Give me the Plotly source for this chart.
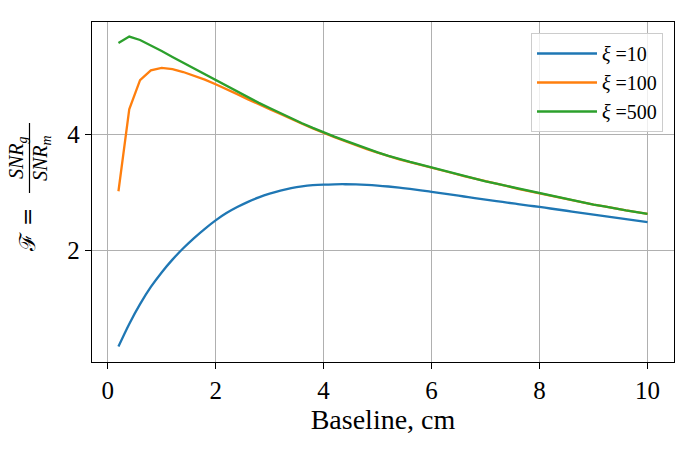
import plotly.graph_objects as go

# ---- data ----
baseline_cm = [0.2, 0.4, 0.6, 0.8, 1.0, 1.2, 1.4, 1.6, 1.8, 2.0,
               2.2, 2.4, 2.6, 2.8, 3.0, 3.2, 3.4, 3.6, 3.8, 4.0,
               4.2, 4.4, 4.6, 4.8, 5.0, 5.2, 5.4, 5.6, 5.8, 6.0,
               6.2, 6.4, 6.6, 6.8, 7.0, 7.2, 7.4, 7.6, 7.8, 8.0,
               8.2, 8.4, 8.6, 8.8, 9.0, 9.2, 9.4, 9.6, 9.8, 10.0]

f_xi10 = [0.35, 0.74, 1.08, 1.375, 1.625, 1.845, 2.04, 2.215, 2.375, 2.52,
          2.645, 2.748, 2.838, 2.914, 2.978, 3.031, 3.073, 3.104, 3.124, 3.135,
          3.14, 3.141, 3.138, 3.13, 3.118, 3.102, 3.083, 3.061, 3.037, 3.011,
          2.984, 2.957, 2.93, 2.903, 2.877, 2.851, 2.825, 2.80, 2.775, 2.75,
          2.724, 2.698, 2.672, 2.646, 2.62, 2.594, 2.568, 2.542, 2.516, 2.49]

f_xi100 = [3.02, 4.43, 4.93, 5.10, 5.14, 5.12, 5.07, 5.01, 4.94, 4.86,
           4.78, 4.69, 4.60, 4.51, 4.43, 4.35, 4.26, 4.18, 4.10, 4.02,
           3.95, 3.88, 3.81, 3.745, 3.685, 3.625, 3.57, 3.52, 3.475, 3.43,
           3.38, 3.33, 3.28, 3.24, 3.19, 3.15, 3.11, 3.06, 3.02, 2.98,
           2.94, 2.90, 2.86, 2.83, 2.79, 2.76, 2.72, 2.69, 2.66, 2.63]

f_xi500 = [5.57, 5.68, 5.62, 5.53, 5.43, 5.33, 5.23, 5.13, 5.03, 4.93,
           4.83, 4.73, 4.63, 4.54, 4.45, 4.36, 4.27, 4.19, 4.11, 4.03,
           3.96, 3.89, 3.82, 3.75, 3.69, 3.63, 3.575, 3.525, 3.48, 3.43,
           3.38, 3.33, 3.28, 3.24, 3.19, 3.15, 3.11, 3.06, 3.02, 2.98,
           2.94, 2.90, 2.86, 2.83, 2.79, 2.76, 2.72, 2.69, 2.66, 2.63]

series_names = ["<i>ξ</i> =10", "<i>ξ</i> =100", "<i>ξ</i> =500"]
series_colors = ["#1f77b4", "#ff7f0e", "#2ca02c"]
series_shapes = ["spline", "linear", "linear"]
x_ticks = [0, 2, 4, 6, 8, 10]
y_ticks = [2, 4]

FONT = "Liberation Serif"
W, H = 696, 452
L, R, T, B = 92, 22, 22, 90
PW, PH = W - L - R, H - T - B


def px_x(px):
    return (px - L) / PW


def px_y(py):
    return (H - B - py) / PH


fig = go.Figure()
for name, ys, col, shp in zip(series_names, [f_xi10, f_xi100, f_xi500],
                              series_colors, series_shapes):
    fig.add_trace(go.Scatter(x=baseline_cm, y=ys, mode="lines", name=name,
                             line=dict(color=col, width=2.3, shape=shp)))

axis_common = dict(showline=True, linecolor="black", linewidth=1.3, mirror=True,
                   showgrid=True, gridcolor="#b0b0b0", gridwidth=1,
                   ticks="outside", ticklen=6, tickwidth=1.2, tickcolor="black",
                   zeroline=False, tickfont=dict(family=FONT, size=25, color="black"))

fig.update_xaxes(range=[-0.29, 10.49], tickvals=x_ticks, **axis_common,
                 title=dict(text="Baseline, cm", font=dict(family=FONT, size=28, color="black"),
                            standoff=3))
fig.update_yaxes(range=[0.085, 5.93], tickvals=y_ticks, **axis_common)

# y-axis label: F = SNR_g / SNR_m, rotated
ann = dict(xref="paper", yref="paper", showarrow=False, textangle=-90,
           xanchor="center", yanchor="middle")
fig.add_annotation(text="ℱ =", x=px_x(27), y=px_y(230),
                   font=dict(family="DejaVu Serif", size=22, color="black"), **ann)
fig.add_annotation(text="<i>SNR<sub>g</sub></i>", x=px_x(17), y=px_y(158),
                   font=dict(family=FONT, size=20, color="black"), **ann)
fig.add_annotation(text="<i>SNR<sub>m</sub></i>", x=px_x(41), y=px_y(158),
                   font=dict(family=FONT, size=20, color="black"), **ann)
fig.add_shape(type="line", xref="paper", yref="paper",
              x0=px_x(29.5), x1=px_x(29.5), y0=px_y(123), y1=px_y(193),
              line=dict(color="black", width=1.2))

fig.update_layout(
    width=W, height=H,
    margin=dict(l=L, r=R, t=T, b=B),
    plot_bgcolor="white", paper_bgcolor="white",
    font=dict(family=FONT, color="black"),
    legend=dict(x=px_x(663), y=px_y(33), xanchor="right", yanchor="top",
                bgcolor="rgba(255,255,255,0.8)", bordercolor="#cccccc", borderwidth=1,
                font=dict(family=FONT, size=20, color="black"),
                itemwidth=60, tracegroupgap=0),
)

fig.write_html("out.html")
